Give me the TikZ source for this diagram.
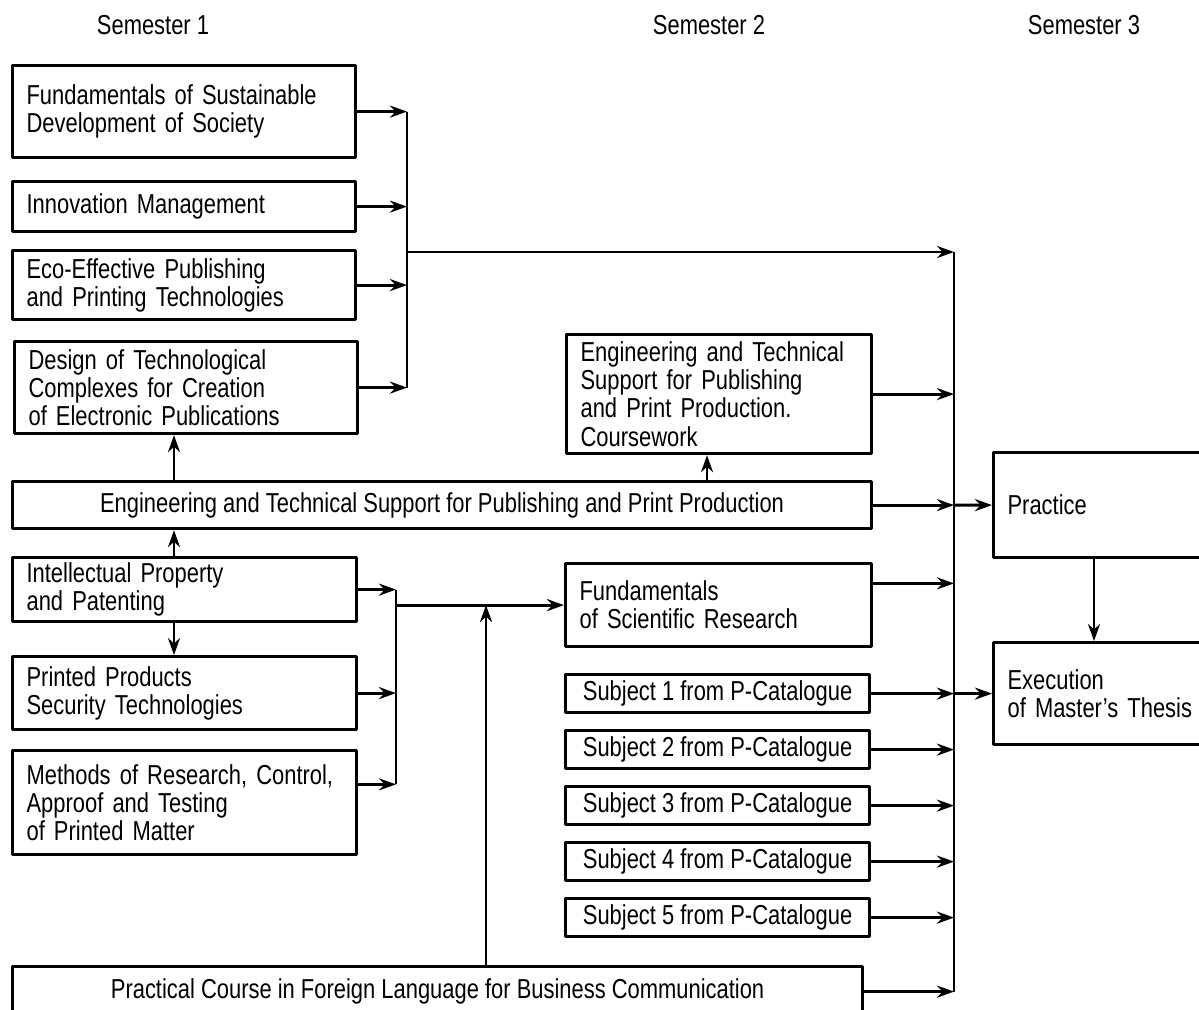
\documentclass[tikz,border=0pt]{standalone}
\usepackage{fontspec}
\setmainfont{Liberation Sans}[FakeStretch=0.8]
\usetikzlibrary{arrows.meta}
\tikzset{
  box/.style={draw, line width=0.9pt, anchor=north west, align=left, inner xsep=0.14cm, inner ysep=0pt},
  bar/.style={draw, line width=0.9pt, anchor=north west, align=center, inner sep=0pt},
  link/.style={line width=0.8pt},
}
\begin{document}
\begin{tikzpicture}[x=1cm, y=-1cm, line join=round, >={Stealth[length=1.7mm,width=1.2mm]},
  font=\fontsize{7.8}{8}\selectfont]
		\useasboundingbox (0,0) rectangle (11.99,10.09);
		\clip (0,0) rectangle (11.99,10.09);
		\path
		(4.07,2.52) coordinate (join1)
		(9.54,2.52) coordinate (busR)
		(3.96,6.04) coordinate (bus2)
		(1.74,0) coordinate (colA)
		(7.07,0) coordinate (colB)
		(4.86,0) coordinate (colC)
		(10.94,0) coordinate (colD)
	;
		% semesters
		\node (sem1) at (1.53,0.25) {Semester 1};
		\node (sem2) at (7.09,0.25) {Semester 2};
		\node (sem3) at (10.84,0.25) {Semester 3};
		% semester 1
		\node[box, text width=3.15cm, minimum height=0.92cm] (fsd) at (0.11,0.64) {Fundamentals of Sustainable\\Development of Society};
		\node[box, text width=3.15cm, minimum height=0.50cm] (im) at (0.11,1.80) {Innovation Management};
		\node[box, text width=3.15cm, minimum height=0.69cm] (eco) at (0.11,2.49) {Eco-Effective Publishing\\and Printing Technologies};
		\node[box, text width=3.15cm, minimum height=0.92cm] (dtc) at (0.13,3.40) {Design of Technological\\Complexes for Creation\\of Electronic Publications};
		\node[bar, minimum width=8.59cm, minimum height=0.47cm] (ets) at (0.11,4.80) {Engineering and Technical Support for Publishing and Print Production};
		\node[box, text width=3.16cm, minimum height=0.64cm] (ip) at (0.11,5.56) {Intellectual Property\\and Patenting};
		\node[box, text width=3.16cm, minimum height=0.73cm] (pps) at (0.11,6.55) {Printed Products\\Security Technologies};
		\node[box, text width=3.16cm, minimum height=1.04cm] (mrc) at (0.11,7.49) {Methods of Research, Control,\\Approof and Testing\\of Printed Matter};
		\node[bar, minimum width=8.50cm, minimum height=0.50cm] (pfl) at (0.11,9.65) {Practical Course in Foreign Language for Business Communication};
		% semester 2
		\node[box, text width=2.77cm, minimum height=1.19cm] (cw) at (5.65,3.33) {Engineering and Technical\\Support for Publishing\\and Print Production.\\Coursework};
		\node[box, text width=2.78cm, minimum height=0.83cm] (fsr) at (5.64,5.62) {Fundamentals\\of Scientific Research};
		\foreach \n/\y in {1/6.73,2/7.29,3/7.85,4/8.41,5/8.97}
			\node[bar, minimum width=3.04cm, minimum height=0.38cm] (subj\n) at (5.64,\y) {Subject \n\ from P-Catalogue};
		% semester 3
		\node[box, text width=1.90cm, minimum height=1.05cm] (prac) at (9.92,4.51) {Practice};
		\node[box, text width=1.90cm, minimum height=1.02cm] (exe) at (9.92,6.41) {Execution\\of Master's Thesis};
		% links
		\foreach \b in {fsd,im,eco,dtc}\draw[link,->] (\b.east) -- (\b.east -| join1);
		\draw[link] (fsd.east -| join1) -- (dtc.east -| join1);
		\draw[link,->] (join1) -- (busR);
		\draw[link,->] (colA |- ets.north) -- (colA |- dtc.south);
		\draw[link,->] (colA |- ip.north) -- (colA |- ets.south);
		\draw[link,->] (colA |- ip.south) -- (colA |- pps.north);
		\draw[link,->] (colB |- ets.north) -- (colB |- cw.south);
		\foreach \b in {ip.east,pps.east,mrc.6}\draw[link,->] (\b) -- (\b -| bus2);
		\draw[link] (ip.east -| bus2) -- (mrc.6 -| bus2);
		\draw[link,->] (bus2 |- fsr.west) -- (fsr.west);
		\draw[link,->] (colC |- pfl.north) -- (colC |- fsr.west);
		\foreach \b in {cw.east,ets.east,fsr.8,subj1.east,subj2.east,subj3.east,subj4.east,subj5.east,pfl.east}\draw[link,->] (\b) -- (\b -| busR);
		\draw[link] (busR) -- (busR |- pfl.east);
		\draw[link,->] (ets.east -| busR) -- (prac.west);
		\draw[link,->] (busR |- exe.west) -- (exe.west);
		\draw[link,->] (colD |- prac.south) -- (colD |- exe.north);
		\end{tikzpicture}
\end{document}
